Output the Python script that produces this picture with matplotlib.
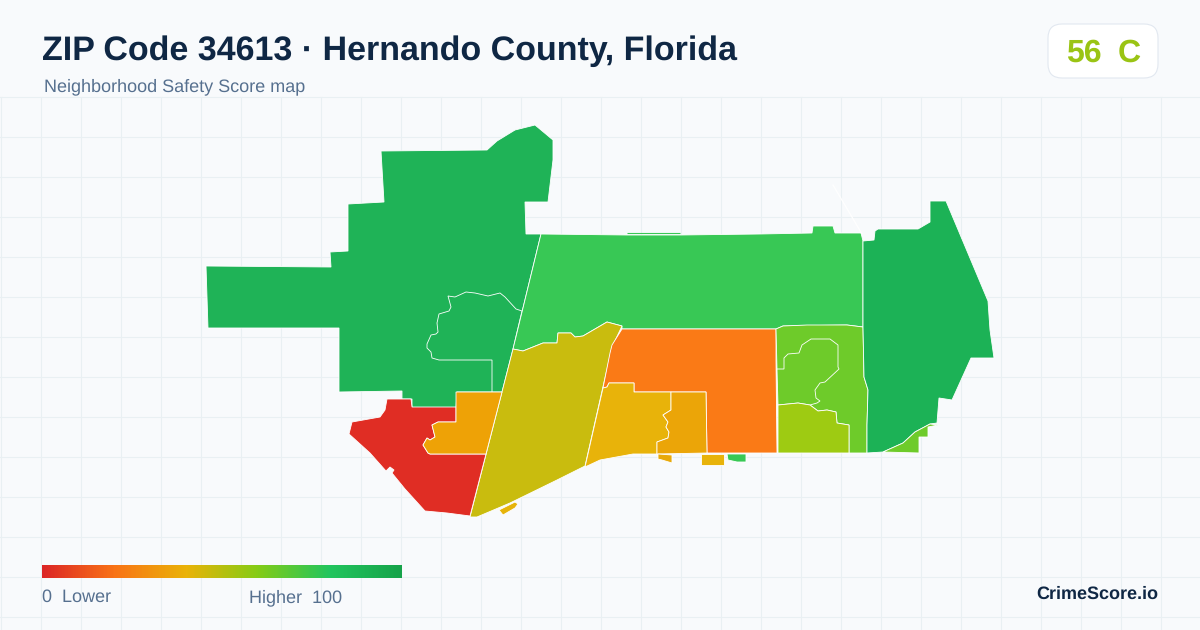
import matplotlib
matplotlib.use('Agg')
import matplotlib.pyplot as plt
from matplotlib.colors import LinearSegmentedColormap
from matplotlib.patches import FancyBboxPatch, Polygon
import numpy as np

plt.rcParams['font.family'] = ['Liberation Sans', 'DejaVu Sans']
plt.rcParams['text.hinting'] = 'no_hinting'
plt.rcParams['text.hinting_factor'] = 1

# Tract outlines in pixel coordinates
north_west = [(381, 151), (487, 150), (497, 141), (515, 130), (535, 125), (553, 140), (553, 160), (548, 202),
              (525, 202), (526, 234), (541, 234), (513, 349), (502, 392), (457, 392), (456, 408), (412, 408),
              (412, 399), (402, 399), (402, 391), (339, 392), (339, 328), (208, 328), (206, 266), (331, 267),
              (330, 252), (348, 251), (348, 204), (384, 202)]
north_west_inner = [(492, 392), (492, 360), (439, 360), (432, 358), (431, 352), (427, 348), (427, 344), (431, 335),
                    (436, 334), (438, 332), (437, 323), (439, 314), (449, 311), (451, 307), (448, 296), (455, 297),
                    (466, 292), (475, 293), (488, 296), (500, 293), (505, 297), (516, 309), (522, 311), (513, 349),
                    (502, 392)]
north_band = [(541, 234), (627, 235), (680, 235), (760, 234), (812, 233), (813, 226), (833, 226), (835, 233),
              (861, 233), (863, 241), (863, 327), (847, 325), (783, 326), (776, 329), (622, 329), (622, 326),
              (607, 322), (583, 336), (575, 337), (571, 333), (558, 333), (557, 343), (543, 343), (523, 351),
              (513, 349)]
north_sliver_x = [627, 680]
north_sliver_y = [233, 233]
olive = [(513, 349), (523, 351), (543, 343), (557, 343), (558, 333), (571, 333), (575, 337), (583, 336), (607, 322),
         (622, 326), (612, 347), (585, 466), (557, 480), (510, 503), (477, 517), (470, 517)]
red = [(470, 516), (447, 513), (425, 511), (405, 489), (392, 473), (394, 470), (390, 467), (386, 471), (370, 453),
       (349, 434), (352, 422), (380, 417), (385, 410), (387, 399), (411, 399), (412, 407), (456, 407), (456, 422),
       (438, 422), (432, 425), (435, 437), (430, 440), (427, 438), (423, 445), (428, 453), (430, 454), (486, 454)]
amber_west = [(456, 392), (502, 392), (486, 454), (430, 454), (428, 453), (423, 445), (427, 438), (430, 440),
              (435, 437), (432, 425), (438, 422), (456, 422)]
coast_patch = [(499, 510), (515, 502), (518, 504), (515, 508), (503, 515)]
orange = [(622, 329), (776, 329), (776, 360), (777, 453), (707, 453), (706, 392), (634, 392), (634, 383), (609, 383),
          (607, 387), (603, 388), (610, 353), (612, 345)]
yellow = [(603, 388), (607, 387), (609, 383), (634, 383), (634, 392), (671, 392), (671, 410), (663, 415), (668, 422),
          (666, 427), (669, 432), (668, 438), (657, 442), (657, 454), (633, 454), (600, 460), (585, 467)]
amber_mid = [(671, 392), (706, 392), (707, 453), (657, 454), (657, 442), (668, 438), (669, 432), (666, 427),
             (668, 422), (663, 415), (671, 410)]
islet_1 = [(658, 454), (672, 455), (672, 463), (662, 460), (658, 459)]
islet_2 = [(701, 454), (724, 454), (724, 465), (701, 465)]
islet_3 = [(727, 454), (746, 454), (746, 462), (737, 462), (728, 460)]
lime_outer = [(776, 329), (783, 326), (807, 325), (847, 325), (863, 327), (864, 377), (868, 390), (867, 425),
              (867, 453), (849, 453), (849, 425), (837, 423), (836, 412), (827, 410), (818, 411), (810, 405),
              (798, 403), (778, 405), (777, 369)]
lime_inner = [(777, 369), (784, 369), (784, 358), (788, 354), (799, 353), (802, 345), (811, 339), (830, 339),
              (838, 345), (838, 367), (839, 369), (825, 382), (820, 383), (815, 390), (816, 398), (820, 401),
              (817, 403), (810, 405), (798, 403), (778, 405)]
olive_lime = [(778, 405), (798, 403), (810, 405), (818, 411), (827, 410), (836, 412), (837, 423), (849, 425),
              (849, 453), (778, 453)]
east = [(863, 241), (874, 240), (875, 231), (878, 229), (898, 229), (918, 229), (930, 222), (930, 201), (946, 201),
        (988, 301), (990, 330), (994, 358), (971, 358), (952, 400), (939, 398), (937, 423), (930, 424), (915, 432),
        (903, 443), (883, 452), (867, 453), (867, 425), (868, 390), (864, 377), (863, 327)]
lime_south = [(938, 425), (928, 427), (928, 437), (919, 437), (919, 453), (883, 452), (903, 443), (915, 432),
              (930, 424)]

tracts = [north_west, north_west_inner, north_band, olive, red, amber_west, coast_patch, orange, yellow, amber_mid,
          islet_1, islet_2, islet_3, lime_outer, lime_inner, olive_lime, east, lime_south]
tract_colors = ['#1fb357', '#1fb357', '#38c855', '#c9bc0e', '#e02d24', '#eea206', '#e6b40a', '#fa7a16', '#e8b30a',
                '#eba508', '#e8a90a', '#e8b30a', '#38c855', '#6ecb2a', '#6ecb2a', '#9ecb12', '#1cb256', '#6ecb2a']

legend_stops = [0, 0.2, 0.4, 0.6, 0.8, 1]
legend_colors = ['#dc2626', '#f97316', '#eab308', '#84cc16', '#22c55e', '#16a34a']

fig = plt.figure(figsize=(12, 6.3), dpi=100, facecolor='#f8fafc')
ax = fig.add_axes([0, 0, 1, 1])
ax.set_xlim(0, 1200)
ax.set_ylim(630, 0)
ax.axis('off')

# Background grid
for x in range(0, 1201, 40):
    ax.plot([x + 0.5, x + 0.5], [97, 630], color='#e9f0f3', lw=0.8, zorder=1)
for y in range(97, 630, 40):
    ax.plot([0, 1200], [y, y], color='#e9f0f3', lw=0.8, zorder=1)

for tract, color in zip(tracts, tract_colors):
    ax.add_patch(Polygon(tract, closed=True, facecolor=color, edgecolor='white', lw=0.6, zorder=3))
ax.plot(north_sliver_x, north_sliver_y, color='#38c855', lw=0.8, solid_capstyle='butt', zorder=3)

# Thin sliver north of the east tract
ax.plot([833, 862], [185, 234], color='white', lw=0.9, zorder=4)

# Title block
ax.text(42, 60, 'ZIP Code 34613 · Hernando County, Florida', fontsize=24.45, fontweight='bold',
        color='#0f2744', va='baseline', zorder=5)
ax.text(44, 91, 'Neighborhood Safety Score map', fontsize=13, color='#56708f', va='baseline', zorder=5)

# Score badge
ax.add_patch(FancyBboxPatch((1060, 36), 86, 30, boxstyle='round,pad=12,rounding_size=14',
                            facecolor='white', edgecolor='#e2e8f0', lw=0.8, zorder=4))
ax.text(1066, 62, '56', fontsize=23, fontweight='bold', color='#9ac414', va='baseline', zorder=5)
ax.text(1118, 62, 'C', fontsize=23, fontweight='bold', color='#9ac414', va='baseline', zorder=5)

# Legend bar
cmap = LinearSegmentedColormap.from_list('score', list(zip(legend_stops, legend_colors)))
ax.imshow(np.linspace(0, 1, 360).reshape(1, -1), cmap=cmap, extent=(42, 402, 578, 565), aspect='auto', zorder=5)
ax.set_xlim(0, 1200)
ax.set_ylim(630, 0)
ax.text(42, 602, '0  Lower', fontsize=12.9, color='#56708f', va='baseline', zorder=5)
ax.text(249, 602, 'Higher  100', fontsize=12.9, color='#56708f', va='baseline', zorder=5)
ax.text(1158, 599, 'CrimeScore.io', fontsize=13, fontweight='bold', color='#0f2744', ha='right', va='baseline', zorder=5)

fig.savefig('out.png', dpi=100, facecolor=fig.get_facecolor())
